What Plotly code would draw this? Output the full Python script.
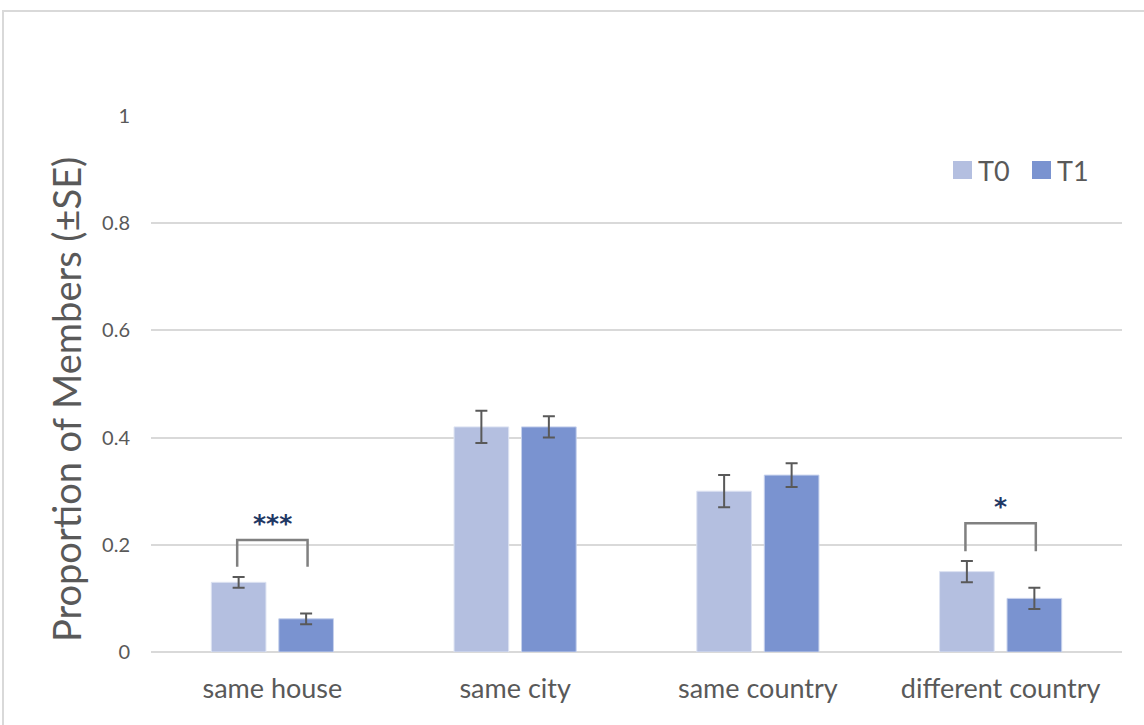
import plotly.graph_objects as go

categories = ["same house", "same city", "same country", "different country"]
t0_values = [0.13, 0.42, 0.30, 0.15]
t0_se = [0.01, 0.03, 0.03, 0.02]
t1_values = [0.062, 0.42, 0.33, 0.10]
t1_se = [0.01, 0.02, 0.022, 0.02]
y_ticks = [0, 0.2, 0.4, 0.6, 0.8, 1]
y_tick_labels = ["0", "0.2", "0.4", "0.6", "0.8", "1"]
series_names = ["T0", "T1"]
series_colors = ["#B4BFE0", "#7A93D0"]
y_title = "Proportion of Members (±SE)"

# significance brackets: category index, bracket top, leg bottom, label
sig_index = [0, 3]
sig_top = [0.209, 0.24]
sig_bottom = [0.159, 0.188]
sig_labels = ["***", "*"]

GRAY = "#595959"
FONT = "Lato"

fig = go.Figure()
fig.add_trace(go.Bar(
    name=series_names[0], x=categories, y=t0_values,
    marker=dict(color=series_colors[0], line=dict(color="#DDE3F2", width=1)),
    error_y=dict(type="data", array=t0_se, visible=True, color=GRAY, thickness=2, width=6),
))
fig.add_trace(go.Bar(
    name=series_names[1], x=categories, y=t1_values,
    marker=dict(color=series_colors[1], line=dict(color="#C6D1EC", width=1)),
    error_y=dict(type="data", array=t1_se, visible=True, color=GRAY, thickness=2, width=6),
))

off = 0.145
for i, top, bot, lab in zip(sig_index, sig_top, sig_bottom, sig_labels):
    fig.add_shape(type="path",
                  path=f"M {i-off},{bot} L {i-off},{top} L {i+off},{top} L {i+off},{bot}",
                  xref="x", yref="y", line=dict(color="#808080", width=2.5))
    fig.add_annotation(x=i, y=top, xref="x", yref="y", text=lab, showarrow=False,
                       yanchor="bottom", yshift=0,
                       font=dict(family="DejaVu Sans", size=25, color="#1F3864", weight="bold"))

# pixel -> paper helpers
px0, px1, pyt, pyb = 151, 1122, 116, 652
def xp(px):
    return (px - px0) / (px1 - px0)
def yp(py):
    return (pyb - py) / (pyb - pyt)

# outer chart border (left and top edges visible)
fig.add_shape(type="rect", xref="paper", yref="paper",
              x0=xp(3), x1=xp(1160), y0=yp(740), y1=yp(11),
              line=dict(color="#D9D9D9", width=2), fillcolor="rgba(0,0,0,0)", layer="below")

# legend drawn manually to match the square size
leg_x = [953, 1032]
for name, col, lx in zip(series_names, series_colors, leg_x):
    fig.add_shape(type="rect", xref="paper", yref="paper",
                  x0=xp(lx), x1=xp(lx + 19), y0=yp(179), y1=yp(161),
                  line=dict(width=0), fillcolor=col)
    fig.add_annotation(x=xp(lx + 23), y=yp(170), xref="paper", yref="paper",
                       text=name, showarrow=False, xanchor="left", yanchor="middle",
                       font=dict(family=FONT, size=27, color=GRAY))

# y-axis title
fig.add_annotation(x=xp(66), y=yp(400), xref="paper", yref="paper", text=y_title,
                   textangle=-90, showarrow=False, xanchor="center", yanchor="middle",
                   font=dict(family=FONT, size=38, color=GRAY))

fig.update_layout(
    width=1144, height=725,
    margin=dict(l=151, r=22, t=116, b=73),
    paper_bgcolor="white", plot_bgcolor="white",
    barmode="group", bargap=0.444, bargroupgap=0.19,
    font=dict(family=FONT, color=GRAY),
    showlegend=False,
)
fig.update_yaxes(range=[0, 1], tickvals=y_ticks, ticktext=y_tick_labels,
                 showgrid=True, gridcolor="#D9D9D9", gridwidth=1.5,
                 zeroline=True, zerolinecolor="#D9D9D9", zerolinewidth=2,
                 showline=False, ticks="", ticklabelstandoff=20,
                 tickfont=dict(family=FONT, size=20, color=GRAY))
fig.update_xaxes(showline=False, ticks="", showgrid=False,
                 tickfont=dict(family=FONT, size=27, color=GRAY), ticklabelstandoff=18)

fig.write_html("out.html")
